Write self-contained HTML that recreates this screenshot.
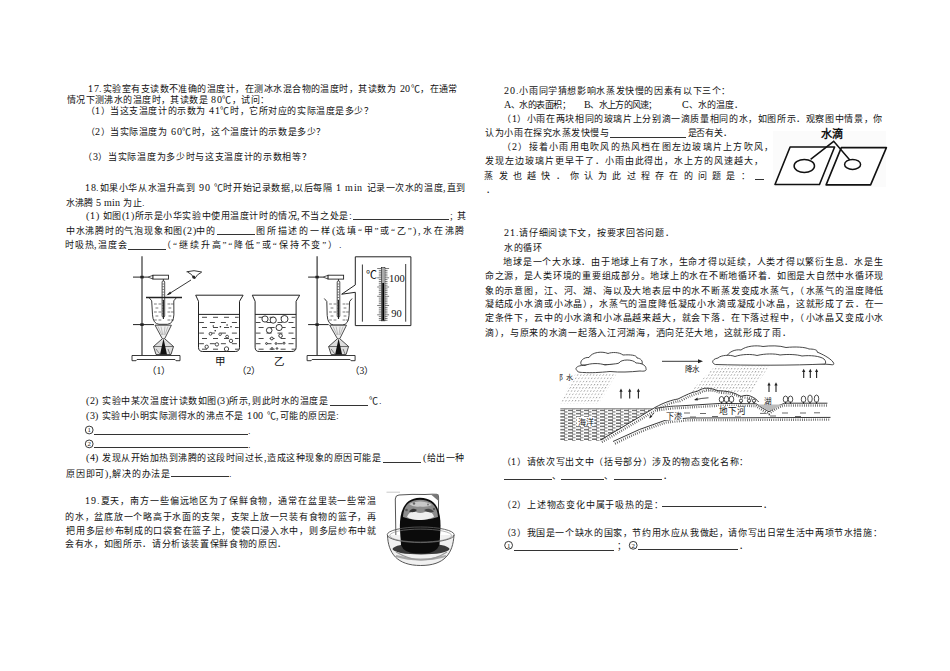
<!DOCTYPE html><html lang="zh-CN"><head><meta charset="utf-8"><style>
html,body{margin:0;padding:0;background:#fff;width:950px;height:671px;overflow:hidden;position:relative}
@font-face{font-family:"LSX";src:local("Liberation Serif");unicode-range:U+0020-007E;size-adjust:112%}
.t{position:absolute;white-space:pre;font-family:"LSX","Liberation Serif",serif;font-size:9.0px;line-height:9.0px;color:#111}
.u{position:absolute;height:0;border-top:1px solid #333}
</style></head><body>
<div class="t" id="t0" style="left:88.30px;top:84.10px;letter-spacing:0.468px">17.实验室有支读数不准确的温度计，在测冰水混合物的温度时，其读数为 20℃，在通常</div>
<div class="t" id="t1" style="left:66.80px;top:94.80px;letter-spacing:0.418px">情况下测沸水的温度时，其读数是 80℃，试问：</div>
<div class="t" id="t2" style="left:85.50px;top:105.80px;letter-spacing:0.561px">（1）当这支温度计的示数为 41℃时，它所对应的实际温度是多少？</div>
<div class="t" id="t3" style="left:85.50px;top:127.10px;letter-spacing:0.569px">（2）当实际温度为 60℃时，这个温度计的示数是多少？</div>
<div class="t" id="t4" style="left:83.10px;top:151.70px;letter-spacing:0.678px">（3）当实际温度为多少时与这支温度计的示数相等？</div>
<div class="t" id="t5" style="left:85.00px;top:182.90px;letter-spacing:0.583px">18.如果小华从水温升高到 90 ℃时开始记录数据,以后每隔 1 min 记录一次水的温度,直到</div>
<div class="t" id="t6" style="left:66.00px;top:197.60px;letter-spacing:0.050px">水沸腾 5 min 为止.</div>
<div class="t" id="t7" style="left:86.40px;top:211.20px;letter-spacing:0.575px">(1) 如图(1)所示是小华实验中使用温度计时的情况,不当之处是:</div>
<div class="t" id="t8" style="left:450.00px;top:211.20px;letter-spacing:3.600px">;其</div>
<div class="t" id="t9" style="left:65.80px;top:226.20px;letter-spacing:0.775px">中水沸腾时的气泡现象和图(2)中的</div>
<div class="t" id="t10" style="left:256.00px;top:226.20px;letter-spacing:1.791px">图所描述的一样(选填“甲”或“乙”),水在沸腾</div>
<div class="t" id="t11" style="left:65.00px;top:240.20px;letter-spacing:0.800px">时吸热,温度会</div>
<div class="t" id="t12" style="left:162.00px;top:240.20px;letter-spacing:1.905px">（“继续升高”“降低”或“保持不变”）.</div>
<div class="t" id="t13" style="left:86.20px;top:396.40px;letter-spacing:0.538px">(2) 实验中某次温度计读数如图(3)所示,则此时水的温度是</div>
<div class="t" id="t14" style="left:369.00px;top:396.40px;letter-spacing:0.800px">℃.</div>
<div class="t" id="t15" style="left:86.20px;top:410.70px;letter-spacing:0.444px">(3) 实验中小明实际测得水的沸点不是 100 ℃,可能的原因是:</div>
<div class="t" id="t16" style="left:248.00px;top:426.20px;letter-spacing:0.800px">.</div>
<div class="t" id="t17" style="left:248.00px;top:440.00px;letter-spacing:0.800px">.</div>
<div class="t" id="t18" style="left:86.20px;top:453.40px;letter-spacing:0.509px">(4) 发现从开始加热到沸腾的这段时间过长,造成这种现象的原因可能是</div>
<div class="t" id="t19" style="left:423.00px;top:453.40px;letter-spacing:0.550px">(给出一种</div>
<div class="t" id="t20" style="left:66.10px;top:469.10px;letter-spacing:0.727px">原因即可),解决的办法是</div>
<div class="t" id="t21" style="left:229.40px;top:469.20px;letter-spacing:0.800px">.</div>
<div class="t" id="t22" style="left:85.00px;top:496.40px;letter-spacing:0.867px">19.夏天，南方一些偏远地区为了保鲜食物，通常在盆里装一些常温</div>
<div class="t" id="t23" style="left:65.10px;top:511.80px;letter-spacing:0.742px">的水，盆底放一个略高于水面的支架，支架上放一只装有食物的篮子，再</div>
<div class="t" id="t24" style="left:66.10px;top:526.10px;letter-spacing:0.710px">把用多层纱布制成的口袋套在篮子上，使袋口浸入水中，则多层纱布中就</div>
<div class="t" id="t25" style="left:65.10px;top:539.40px;letter-spacing:0.645px">会有水，如图所示．请分析该装置保鲜食物的原因．</div>
<div class="t" id="t26" style="left:504.40px;top:85.60px;letter-spacing:0.625px">20.小雨同学猜想影响水蒸发快慢的因素有以下三个：</div>
<div class="t" id="t27" style="left:504.40px;top:100.10px;letter-spacing:-0.514px">A、水的表面积；</div>
<div class="t" id="t28" style="left:584.00px;top:100.10px;letter-spacing:-0.700px">B、水上方的风速；</div>
<div class="t" id="t29" style="left:681.50px;top:100.10px;letter-spacing:0.033px">C、水的温度．</div>
<div class="t" id="t30" style="left:502.00px;top:114.20px;letter-spacing:0.621px">（1）小雨在两块相同的玻璃片上分别滴一滴质量相同的水，如图所示．观察图中情景，你</div>
<div class="t" id="t31" style="left:485.40px;top:128.20px;letter-spacing:0.533px">认为小雨在探究水蒸发快慢与</div>
<div class="t" id="t32" style="left:687.50px;top:128.20px;letter-spacing:-0.200px">是否有关．</div>
<div class="t" id="t33" style="left:502.00px;top:142.20px;letter-spacing:1.231px">（2）接着小雨用电吹风的热风档在图左边玻璃片上方吹风，</div>
<div class="t" id="t34" style="left:485.40px;top:156.20px;letter-spacing:0.941px">发现左边玻璃片更早干了．小雨由此得出，水上方的风速越大，</div>
<div class="t" id="t35" style="left:484.40px;top:170.80px;letter-spacing:5.233px">蒸发也越快．你认为此过程存在的问题是：</div>
<div class="t" id="t36" style="left:485.50px;top:185.10px;letter-spacing:0.800px">．</div>
<div class="t" id="t37" style="left:504.40px;top:228.30px;letter-spacing:0.678px">21.请仔细阅读下文，按要求回答问题．</div>
<div class="t" id="t38" style="left:504.40px;top:242.60px;letter-spacing:0.400px">水的循环</div>
<div class="t" id="t39" style="left:503.40px;top:257.00px;letter-spacing:0.742px">地球是一个大水球．由于地球上有了水，生命才得以延续，人类才得以繁衍生息．水是生</div>
<div class="t" id="t40" style="left:484.80px;top:271.30px;letter-spacing:0.740px">命之源，是人类环境的重要组成部分。地球上的水在不断地循环着．如图是大自然中水循环现</div>
<div class="t" id="t41" style="left:484.80px;top:285.50px;letter-spacing:0.840px">象的示意图，江、河、湖、海以及大地表层中的水不断蒸发变成水蒸气，（水蒸气的温度降低</div>
<div class="t" id="t42" style="left:484.80px;top:299.00px;letter-spacing:0.840px">凝结成小水滴或小冰晶），水蒸气的温度降低凝成小水滴或凝成小冰晶，这就形成了云．在一</div>
<div class="t" id="t43" style="left:484.80px;top:313.20px;letter-spacing:0.840px">定条件下，云中的小水滴和小冰晶越来越大，就会下落．在下落过程中，（小冰晶又变成小水</div>
<div class="t" id="t44" style="left:484.80px;top:327.70px;letter-spacing:0.710px">滴），与原来的水滴一起落入江河湖海，洒向茫茫大地，这就形成了雨．</div>
<div class="t" id="t45" style="left:501.80px;top:457.00px;letter-spacing:0.664px">（1）请依次写出文中（括号部分）涉及的物态变化名称：</div>
<div class="t" id="t46" style="left:551.50px;top:471.00px;letter-spacing:0.800px">、</div>
<div class="t" id="t47" style="left:604.10px;top:471.00px;letter-spacing:0.800px">、</div>
<div class="t" id="t48" style="left:662.50px;top:471.00px;letter-spacing:0.800px">．</div>
<div class="t" id="t49" style="left:501.80px;top:499.70px;letter-spacing:0.775px">（2）上述物态变化中属于吸热的是：</div>
<div class="t" id="t50" style="left:763.00px;top:499.50px;letter-spacing:0.800px">．</div>
<div class="t" id="t51" style="left:501.80px;top:527.50px;letter-spacing:0.610px">（3）我国是一个缺水的国家，节约用水应从我做起，请你写出日常生活中两项节水措施：</div>
<div class="t" id="t52" style="left:617.00px;top:540.60px;letter-spacing:0.800px">；</div>
<div class="t" id="t53" style="left:739.00px;top:540.60px;letter-spacing:0.800px">．</div>
<div class="u" style="left:353.0px;top:219.0px;width:96.4px"></div>
<div class="u" style="left:216.8px;top:234.0px;width:37.9px"></div>
<div class="u" style="left:128.4px;top:248.5px;width:37.9px"></div>
<div class="u" style="left:329.8px;top:405.0px;width:38.1px"></div>
<div class="u" style="left:94.0px;top:433.8px;width:154.0px"></div>
<div class="u" style="left:94.0px;top:447.0px;width:154.0px"></div>
<div class="u" style="left:383.0px;top:461.5px;width:38.0px"></div>
<div class="u" style="left:171.4px;top:476.2px;width:57.4px"></div>
<div class="u" style="left:609.5px;top:136.5px;width:76.7px"></div>
<div class="u" style="left:755.4px;top:178.5px;width:8.6px"></div>
<div class="u" style="left:504.2px;top:479.0px;width:47.4px"></div>
<div class="u" style="left:561.0px;top:479.0px;width:43.2px"></div>
<div class="u" style="left:614.3px;top:479.0px;width:47.7px"></div>
<div class="u" style="left:662.0px;top:506.3px;width:100.3px"></div>
<div class="u" style="left:513.7px;top:549.5px;width:100.0px"></div>
<div class="u" style="left:638.0px;top:549.3px;width:100.3px"></div>
<svg class="fig" width="950" height="671" style="position:absolute;left:0;top:0">
<line x1="142" y1="256.2" x2="142" y2="355.5" stroke="#222" stroke-width="1.1"/>
<path d="M132,360.7 L132,355.5 L180,355.5 L180,360.7 L176,360.7 L175,359.5 L137,359.5 L136,360.7 Z" fill="#fff" stroke="#222" stroke-width="0.9"/>
<line x1="133" y1="277.1" x2="148" y2="277.1" stroke="#222" stroke-width="1"/>
<rect x="140.3" y="275.8" width="3.4" height="2.6" fill="#222"/>
<path d="M148,277.1 L153,275.3 L153,279 Z" fill="none" stroke="#222" stroke-width="0.8"/>
<rect x="153" y="275.2" width="15.5" height="3.9" fill="#fff" stroke="#222" stroke-width="0.9"/>
<line x1="163.4" y1="279" x2="163.4" y2="281" stroke="#222" stroke-width="0.8"/>
<rect x="162.1" y="281" width="2.6" height="36" rx="1" fill="#fff" stroke="#222" stroke-width="0.8"/>
<line x1="162.4" y1="284.0" x2="164.0" y2="284.0" stroke="#222" stroke-width="0.6"/>
<line x1="162.4" y1="286.7" x2="164.0" y2="286.7" stroke="#222" stroke-width="0.6"/>
<line x1="162.4" y1="289.4" x2="164.0" y2="289.4" stroke="#222" stroke-width="0.6"/>
<line x1="162.4" y1="292.1" x2="164.0" y2="292.1" stroke="#222" stroke-width="0.6"/>
<line x1="162.4" y1="294.8" x2="164.0" y2="294.8" stroke="#222" stroke-width="0.6"/>
<line x1="162.4" y1="297.5" x2="164.0" y2="297.5" stroke="#222" stroke-width="0.6"/>
<line x1="162.4" y1="300.2" x2="164.0" y2="300.2" stroke="#222" stroke-width="0.6"/>
<line x1="162.4" y1="302.9" x2="164.0" y2="302.9" stroke="#222" stroke-width="0.6"/>
<line x1="162.4" y1="305.6" x2="164.0" y2="305.6" stroke="#222" stroke-width="0.6"/>
<line x1="162.4" y1="308.3" x2="164.0" y2="308.3" stroke="#222" stroke-width="0.6"/>
<line x1="162.4" y1="311.0" x2="164.0" y2="311.0" stroke="#222" stroke-width="0.6"/>
<line x1="162.4" y1="313.7" x2="164.0" y2="313.7" stroke="#222" stroke-width="0.6"/>
<line x1="163.4" y1="300" x2="163.4" y2="319" stroke="#222" stroke-width="1.1"/>
<path d="M149.2,297.8 L151.7,300.8 L152.5,314.8 Q153,323.8 159,324.3 L167.4,324.3 Q173.4,323.8 173.9,314.8 L173.8,300.8 L176.3,297.8" fill="none" stroke="#222" stroke-width="0.9"/>
<line x1="154" y1="304" x2="156.8" y2="304" stroke="#444" stroke-width="0.7"/>
<line x1="158.5" y1="304" x2="161.3" y2="304" stroke="#444" stroke-width="0.7"/>
<line x1="167.5" y1="304" x2="170.3" y2="304" stroke="#444" stroke-width="0.7"/>
<line x1="171" y1="304" x2="173.8" y2="304" stroke="#444" stroke-width="0.7"/>
<line x1="155.5" y1="308" x2="158.3" y2="308" stroke="#444" stroke-width="0.7"/>
<line x1="168.5" y1="308" x2="171.3" y2="308" stroke="#444" stroke-width="0.7"/>
<line x1="154" y1="312" x2="156.8" y2="312" stroke="#444" stroke-width="0.7"/>
<line x1="158.5" y1="312" x2="161.3" y2="312" stroke="#444" stroke-width="0.7"/>
<line x1="167.5" y1="312" x2="170.3" y2="312" stroke="#444" stroke-width="0.7"/>
<line x1="171" y1="312" x2="173.8" y2="312" stroke="#444" stroke-width="0.7"/>
<line x1="155.5" y1="316" x2="158.3" y2="316" stroke="#444" stroke-width="0.7"/>
<line x1="168.5" y1="316" x2="171.3" y2="316" stroke="#444" stroke-width="0.7"/>
<line x1="154" y1="320" x2="156.8" y2="320" stroke="#444" stroke-width="0.7"/>
<line x1="158.5" y1="320" x2="161.3" y2="320" stroke="#444" stroke-width="0.7"/>
<line x1="167.5" y1="320" x2="170.3" y2="320" stroke="#444" stroke-width="0.7"/>
<line x1="171" y1="320" x2="173.8" y2="320" stroke="#444" stroke-width="0.7"/>
<line x1="146" y1="297.4" x2="182" y2="297.4" stroke="#222" stroke-width="1.5"/>
<line x1="133" y1="324.6" x2="154" y2="324.6" stroke="#222" stroke-width="1"/>
<rect x="140.3" y="323.3" width="3.4" height="2.6" fill="#222"/>
<path d="M155,325.2 L171.4,325.2 L164.8,338.5 L162.2,338.5 Z" fill="#eee" stroke="#222" stroke-width="0.8"/>
<line x1="158" y1="326.5" x2="161.85" y2="335" stroke="#888" stroke-width="0.5"/>
<line x1="161" y1="326.5" x2="162.75" y2="335" stroke="#888" stroke-width="0.5"/>
<line x1="165" y1="326.5" x2="163.95" y2="335" stroke="#888" stroke-width="0.5"/>
<line x1="168" y1="326.5" x2="164.85" y2="335" stroke="#888" stroke-width="0.5"/>
<path d="M162.6,338.5 L153.5,346.5 L156,354.5 L171,354.5 L173.5,346.5 L164.4,338.5" fill="#ddd" stroke="#222" stroke-width="0.8"/>
<path d="M153.5,346.5 L173.5,346.5" stroke="#222" stroke-width="0.6"/>
<path d="M163.5,338.5 L160,354.5 L167,354.5 Z" fill="#111"/>
<path d="M156,349 Q158,352 160,354 M168,349 Q169,352 170,354" stroke="#555" stroke-width="0.7" fill="none"/>
<path d="M186.5,271.8 Q194,269.5 201.8,272 M187.5,272 Q192,273.5 194.5,279 Q197,274 201.5,272.3" fill="none" stroke="#222" stroke-width="0.9"/>
<circle cx="193.7" cy="277" r="1.5" fill="#222"/>
<line x1="191" y1="280" x2="168" y2="294.5" stroke="#222" stroke-width="0.9"/>
<path d="M166.3,295.6 L170.2,291.5 L171.4,293.7 Z" fill="#222"/>
<line x1="317.1" y1="256.2" x2="317.1" y2="355.5" stroke="#222" stroke-width="1.1"/>
<path d="M307.1,360.7 L307.1,355.5 L355.1,355.5 L355.1,360.7 L351.1,360.7 L350.1,359.5 L312.1,359.5 L311.1,360.7 Z" fill="#fff" stroke="#222" stroke-width="0.9"/>
<line x1="308.1" y1="277.1" x2="323.1" y2="277.1" stroke="#222" stroke-width="1"/>
<rect x="315.40000000000003" y="275.8" width="3.4" height="2.6" fill="#222"/>
<path d="M323.1,277.1 L328.1,275.3 L328.1,279 Z" fill="none" stroke="#222" stroke-width="0.8"/>
<rect x="328.1" y="275.2" width="15.5" height="3.9" fill="#fff" stroke="#222" stroke-width="0.9"/>
<line x1="338.5" y1="279" x2="338.5" y2="281" stroke="#222" stroke-width="0.8"/>
<rect x="337.2" y="281" width="2.6" height="36" rx="1" fill="#fff" stroke="#222" stroke-width="0.8"/>
<line x1="337.5" y1="284.0" x2="339.1" y2="284.0" stroke="#222" stroke-width="0.6"/>
<line x1="337.5" y1="286.7" x2="339.1" y2="286.7" stroke="#222" stroke-width="0.6"/>
<line x1="337.5" y1="289.4" x2="339.1" y2="289.4" stroke="#222" stroke-width="0.6"/>
<line x1="337.5" y1="292.1" x2="339.1" y2="292.1" stroke="#222" stroke-width="0.6"/>
<line x1="337.5" y1="294.8" x2="339.1" y2="294.8" stroke="#222" stroke-width="0.6"/>
<line x1="337.5" y1="297.5" x2="339.1" y2="297.5" stroke="#222" stroke-width="0.6"/>
<line x1="337.5" y1="300.2" x2="339.1" y2="300.2" stroke="#222" stroke-width="0.6"/>
<line x1="337.5" y1="302.9" x2="339.1" y2="302.9" stroke="#222" stroke-width="0.6"/>
<line x1="337.5" y1="305.6" x2="339.1" y2="305.6" stroke="#222" stroke-width="0.6"/>
<line x1="337.5" y1="308.3" x2="339.1" y2="308.3" stroke="#222" stroke-width="0.6"/>
<line x1="337.5" y1="311.0" x2="339.1" y2="311.0" stroke="#222" stroke-width="0.6"/>
<line x1="337.5" y1="313.7" x2="339.1" y2="313.7" stroke="#222" stroke-width="0.6"/>
<line x1="338.5" y1="300" x2="338.5" y2="319" stroke="#222" stroke-width="1.1"/>
<path d="M324.3,298.5 L326.8,301.5 L327.20000000000005,315.5 Q327.70000000000005,324.5 333.70000000000005,325.0 L342.5,325.0 Q348.5,324.5 349.0,315.5 L349.6,301.5 L352.1,298.5" fill="none" stroke="#222" stroke-width="0.9"/>
<line x1="329.1" y1="304" x2="331.90000000000003" y2="304" stroke="#444" stroke-width="0.7"/>
<line x1="333.6" y1="304" x2="336.40000000000003" y2="304" stroke="#444" stroke-width="0.7"/>
<line x1="342.6" y1="304" x2="345.40000000000003" y2="304" stroke="#444" stroke-width="0.7"/>
<line x1="346.1" y1="304" x2="348.90000000000003" y2="304" stroke="#444" stroke-width="0.7"/>
<line x1="330.6" y1="308" x2="333.40000000000003" y2="308" stroke="#444" stroke-width="0.7"/>
<line x1="343.6" y1="308" x2="346.40000000000003" y2="308" stroke="#444" stroke-width="0.7"/>
<line x1="329.1" y1="312" x2="331.90000000000003" y2="312" stroke="#444" stroke-width="0.7"/>
<line x1="333.6" y1="312" x2="336.40000000000003" y2="312" stroke="#444" stroke-width="0.7"/>
<line x1="342.6" y1="312" x2="345.40000000000003" y2="312" stroke="#444" stroke-width="0.7"/>
<line x1="346.1" y1="312" x2="348.90000000000003" y2="312" stroke="#444" stroke-width="0.7"/>
<line x1="330.6" y1="316" x2="333.40000000000003" y2="316" stroke="#444" stroke-width="0.7"/>
<line x1="343.6" y1="316" x2="346.40000000000003" y2="316" stroke="#444" stroke-width="0.7"/>
<line x1="329.1" y1="320" x2="331.90000000000003" y2="320" stroke="#444" stroke-width="0.7"/>
<line x1="333.6" y1="320" x2="336.40000000000003" y2="320" stroke="#444" stroke-width="0.7"/>
<line x1="342.6" y1="320" x2="345.40000000000003" y2="320" stroke="#444" stroke-width="0.7"/>
<line x1="346.1" y1="320" x2="348.90000000000003" y2="320" stroke="#444" stroke-width="0.7"/>
<line x1="308.1" y1="324.6" x2="328.70000000000005" y2="324.6" stroke="#222" stroke-width="1"/>
<rect x="315.40000000000003" y="323.3" width="3.4" height="2.6" fill="#222"/>
<path d="M329.70000000000005,325.2 L346.5,325.2 L339.90000000000003,338.5 L337.3,338.5 Z" fill="#eee" stroke="#222" stroke-width="0.8"/>
<line x1="333.1" y1="326.5" x2="336.95000000000005" y2="335" stroke="#888" stroke-width="0.5"/>
<line x1="336.1" y1="326.5" x2="337.85" y2="335" stroke="#888" stroke-width="0.5"/>
<line x1="340.1" y1="326.5" x2="339.05" y2="335" stroke="#888" stroke-width="0.5"/>
<line x1="343.1" y1="326.5" x2="339.95000000000005" y2="335" stroke="#888" stroke-width="0.5"/>
<path d="M337.70000000000005,338.5 L328.6,346.5 L331.1,354.5 L346.1,354.5 L348.6,346.5 L339.5,338.5" fill="#ddd" stroke="#222" stroke-width="0.8"/>
<path d="M328.6,346.5 L348.6,346.5" stroke="#222" stroke-width="0.6"/>
<path d="M338.6,338.5 L335.1,354.5 L342.1,354.5 Z" fill="#111"/>
<path d="M331.1,349 Q333.1,352 335.1,354 M343.1,349 Q344.1,352 345.1,354" stroke="#555" stroke-width="0.7" fill="none"/>
<path d="M355.3,284.9 L355.3,256.8 L410.9,256.8 L410.9,325.6 L355.3,325.6 L355.3,292.3 L341.7,294.2 Z" fill="#fff" stroke="#222" stroke-width="1"/>
<line x1="362.4" y1="264.5" x2="362.4" y2="321.7" stroke="#222" stroke-width="0.9"/>
<line x1="405.7" y1="264" x2="405.7" y2="321.7" stroke="#222" stroke-width="0.9"/>
<rect x="381.4" y="267.4" width="3.5" height="53.4" fill="#fff" stroke="#222" stroke-width="0.7"/>
<rect x="382" y="267.8" width="2.3" height="15.2" fill="#aaa"/>
<rect x="382.2" y="283" width="1.9" height="37.6" fill="#000"/>
<line x1="377.2" y1="268.5" x2="381.4" y2="268.5" stroke="#222" stroke-width="0.6"/>
<line x1="384.9" y1="268.5" x2="389.09999999999997" y2="268.5" stroke="#222" stroke-width="0.6"/>
<line x1="378.79999999999995" y1="270.4" x2="381.4" y2="270.4" stroke="#222" stroke-width="0.6"/>
<line x1="384.9" y1="270.4" x2="387.5" y2="270.4" stroke="#222" stroke-width="0.6"/>
<line x1="378.79999999999995" y1="272.2" x2="381.4" y2="272.2" stroke="#222" stroke-width="0.6"/>
<line x1="384.9" y1="272.2" x2="387.5" y2="272.2" stroke="#222" stroke-width="0.6"/>
<line x1="378.79999999999995" y1="274.1" x2="381.4" y2="274.1" stroke="#222" stroke-width="0.6"/>
<line x1="384.9" y1="274.1" x2="387.5" y2="274.1" stroke="#222" stroke-width="0.6"/>
<line x1="378.79999999999995" y1="275.9" x2="381.4" y2="275.9" stroke="#222" stroke-width="0.6"/>
<line x1="384.9" y1="275.9" x2="387.5" y2="275.9" stroke="#222" stroke-width="0.6"/>
<line x1="377.2" y1="277.8" x2="381.4" y2="277.8" stroke="#222" stroke-width="0.6"/>
<line x1="384.9" y1="277.8" x2="389.09999999999997" y2="277.8" stroke="#222" stroke-width="0.6"/>
<line x1="378.79999999999995" y1="279.6" x2="381.4" y2="279.6" stroke="#222" stroke-width="0.6"/>
<line x1="384.9" y1="279.6" x2="387.5" y2="279.6" stroke="#222" stroke-width="0.6"/>
<line x1="378.79999999999995" y1="281.5" x2="381.4" y2="281.5" stroke="#222" stroke-width="0.6"/>
<line x1="384.9" y1="281.5" x2="387.5" y2="281.5" stroke="#222" stroke-width="0.6"/>
<line x1="378.79999999999995" y1="283.3" x2="381.4" y2="283.3" stroke="#222" stroke-width="0.6"/>
<line x1="384.9" y1="283.3" x2="387.5" y2="283.3" stroke="#222" stroke-width="0.6"/>
<line x1="378.79999999999995" y1="285.2" x2="381.4" y2="285.2" stroke="#222" stroke-width="0.6"/>
<line x1="384.9" y1="285.2" x2="387.5" y2="285.2" stroke="#222" stroke-width="0.6"/>
<line x1="377.2" y1="287.0" x2="381.4" y2="287.0" stroke="#222" stroke-width="0.6"/>
<line x1="384.9" y1="287.0" x2="389.09999999999997" y2="287.0" stroke="#222" stroke-width="0.6"/>
<line x1="378.79999999999995" y1="288.9" x2="381.4" y2="288.9" stroke="#222" stroke-width="0.6"/>
<line x1="384.9" y1="288.9" x2="387.5" y2="288.9" stroke="#222" stroke-width="0.6"/>
<line x1="378.79999999999995" y1="290.7" x2="381.4" y2="290.7" stroke="#222" stroke-width="0.6"/>
<line x1="384.9" y1="290.7" x2="387.5" y2="290.7" stroke="#222" stroke-width="0.6"/>
<line x1="378.79999999999995" y1="292.6" x2="381.4" y2="292.6" stroke="#222" stroke-width="0.6"/>
<line x1="384.9" y1="292.6" x2="387.5" y2="292.6" stroke="#222" stroke-width="0.6"/>
<line x1="378.79999999999995" y1="294.4" x2="381.4" y2="294.4" stroke="#222" stroke-width="0.6"/>
<line x1="384.9" y1="294.4" x2="387.5" y2="294.4" stroke="#222" stroke-width="0.6"/>
<line x1="377.2" y1="296.3" x2="381.4" y2="296.3" stroke="#222" stroke-width="0.6"/>
<line x1="384.9" y1="296.3" x2="389.09999999999997" y2="296.3" stroke="#222" stroke-width="0.6"/>
<line x1="378.79999999999995" y1="298.1" x2="381.4" y2="298.1" stroke="#222" stroke-width="0.6"/>
<line x1="384.9" y1="298.1" x2="387.5" y2="298.1" stroke="#222" stroke-width="0.6"/>
<line x1="378.79999999999995" y1="300.0" x2="381.4" y2="300.0" stroke="#222" stroke-width="0.6"/>
<line x1="384.9" y1="300.0" x2="387.5" y2="300.0" stroke="#222" stroke-width="0.6"/>
<line x1="378.79999999999995" y1="301.8" x2="381.4" y2="301.8" stroke="#222" stroke-width="0.6"/>
<line x1="384.9" y1="301.8" x2="387.5" y2="301.8" stroke="#222" stroke-width="0.6"/>
<line x1="378.79999999999995" y1="303.7" x2="381.4" y2="303.7" stroke="#222" stroke-width="0.6"/>
<line x1="384.9" y1="303.7" x2="387.5" y2="303.7" stroke="#222" stroke-width="0.6"/>
<line x1="377.2" y1="305.5" x2="381.4" y2="305.5" stroke="#222" stroke-width="0.6"/>
<line x1="384.9" y1="305.5" x2="389.09999999999997" y2="305.5" stroke="#222" stroke-width="0.6"/>
<line x1="378.79999999999995" y1="307.4" x2="381.4" y2="307.4" stroke="#222" stroke-width="0.6"/>
<line x1="384.9" y1="307.4" x2="387.5" y2="307.4" stroke="#222" stroke-width="0.6"/>
<line x1="378.79999999999995" y1="309.2" x2="381.4" y2="309.2" stroke="#222" stroke-width="0.6"/>
<line x1="384.9" y1="309.2" x2="387.5" y2="309.2" stroke="#222" stroke-width="0.6"/>
<line x1="378.79999999999995" y1="311.1" x2="381.4" y2="311.1" stroke="#222" stroke-width="0.6"/>
<line x1="384.9" y1="311.1" x2="387.5" y2="311.1" stroke="#222" stroke-width="0.6"/>
<line x1="378.79999999999995" y1="312.9" x2="381.4" y2="312.9" stroke="#222" stroke-width="0.6"/>
<line x1="384.9" y1="312.9" x2="387.5" y2="312.9" stroke="#222" stroke-width="0.6"/>
<line x1="377.2" y1="314.8" x2="381.4" y2="314.8" stroke="#222" stroke-width="0.6"/>
<line x1="384.9" y1="314.8" x2="389.09999999999997" y2="314.8" stroke="#222" stroke-width="0.6"/>
<line x1="378.79999999999995" y1="316.6" x2="381.4" y2="316.6" stroke="#222" stroke-width="0.6"/>
<line x1="384.9" y1="316.6" x2="387.5" y2="316.6" stroke="#222" stroke-width="0.6"/>
<line x1="378.79999999999995" y1="318.5" x2="381.4" y2="318.5" stroke="#222" stroke-width="0.6"/>
<line x1="384.9" y1="318.5" x2="387.5" y2="318.5" stroke="#222" stroke-width="0.6"/>
<line x1="378.79999999999995" y1="320.3" x2="381.4" y2="320.3" stroke="#222" stroke-width="0.6"/>
<line x1="384.9" y1="320.3" x2="387.5" y2="320.3" stroke="#222" stroke-width="0.6"/>
<text x="365.5" y="279" font-family="Liberation Serif" font-size="11" fill="#111">&#8451;</text>
<text x="389" y="281.5" font-family="Liberation Serif" font-size="10.5" fill="#111">100</text>
<text x="391.2" y="316.9" font-family="Liberation Serif" font-size="10.5" fill="#111">90</text>
<text x="146.5" y="373.6" font-family="Liberation Serif" font-size="9.5" fill="#111">（1）</text>
<text x="236.5" y="373.6" font-family="Liberation Serif" font-size="9.5" fill="#111">（2）</text>
<text x="349.5" y="373.9" font-family="Liberation Serif" font-size="9.5" fill="#111">（3）</text>
<text x="214.7" y="365.4" font-family="Liberation Serif" font-size="10.5" fill="#111">甲</text>
<text x="273.8" y="365.4" font-family="Liberation Serif" font-size="10.5" fill="#111">乙</text>
<path d="M195.7,295.2 L198.5,301.3 L198.5,347.3 Q198.5,351.5 202.7,351.5 L235.29999999999998,351.5 Q239.5,351.5 239.5,347.3 L239.5,301.3 L243.1,295.2 Z" fill="#fff" stroke="#222" stroke-width="1"/>
<line x1="198.5" y1="314.4" x2="239.5" y2="314.4" stroke="#222" stroke-width="1"/>
<line x1="202.0" y1="317.3" x2="207.0" y2="317.3" stroke="#333" stroke-width="0.9"/>
<line x1="213.0" y1="317.3" x2="218.0" y2="317.3" stroke="#333" stroke-width="0.9"/>
<line x1="224.0" y1="317.3" x2="229.0" y2="317.3" stroke="#333" stroke-width="0.9"/>
<line x1="235.0" y1="317.3" x2="238.7" y2="317.3" stroke="#333" stroke-width="0.9"/>
<line x1="199.2" y1="322.5" x2="203.9" y2="322.5" stroke="#333" stroke-width="0.9"/>
<line x1="209.9" y1="322.5" x2="214.9" y2="322.5" stroke="#333" stroke-width="0.9"/>
<line x1="220.9" y1="322.5" x2="225.9" y2="322.5" stroke="#333" stroke-width="0.9"/>
<line x1="231.9" y1="322.5" x2="236.9" y2="322.5" stroke="#333" stroke-width="0.9"/>
<line x1="202.0" y1="327.5" x2="207.0" y2="327.5" stroke="#333" stroke-width="0.9"/>
<line x1="213.0" y1="327.5" x2="218.0" y2="327.5" stroke="#333" stroke-width="0.9"/>
<line x1="224.0" y1="327.5" x2="229.0" y2="327.5" stroke="#333" stroke-width="0.9"/>
<line x1="235.0" y1="327.5" x2="238.7" y2="327.5" stroke="#333" stroke-width="0.9"/>
<line x1="199.2" y1="333.1" x2="203.9" y2="333.1" stroke="#333" stroke-width="0.9"/>
<line x1="209.9" y1="333.1" x2="214.9" y2="333.1" stroke="#333" stroke-width="0.9"/>
<line x1="220.9" y1="333.1" x2="225.9" y2="333.1" stroke="#333" stroke-width="0.9"/>
<line x1="231.9" y1="333.1" x2="236.9" y2="333.1" stroke="#333" stroke-width="0.9"/>
<line x1="202.0" y1="338.5" x2="207.0" y2="338.5" stroke="#333" stroke-width="0.9"/>
<line x1="213.0" y1="338.5" x2="218.0" y2="338.5" stroke="#333" stroke-width="0.9"/>
<line x1="224.0" y1="338.5" x2="229.0" y2="338.5" stroke="#333" stroke-width="0.9"/>
<line x1="235.0" y1="338.5" x2="238.7" y2="338.5" stroke="#333" stroke-width="0.9"/>
<line x1="199.2" y1="343.7" x2="203.9" y2="343.7" stroke="#333" stroke-width="0.9"/>
<line x1="209.9" y1="343.7" x2="214.9" y2="343.7" stroke="#333" stroke-width="0.9"/>
<line x1="220.9" y1="343.7" x2="225.9" y2="343.7" stroke="#333" stroke-width="0.9"/>
<line x1="231.9" y1="343.7" x2="236.9" y2="343.7" stroke="#333" stroke-width="0.9"/>
<line x1="202.0" y1="349.2" x2="207.0" y2="349.2" stroke="#333" stroke-width="0.9"/>
<line x1="213.0" y1="349.2" x2="218.0" y2="349.2" stroke="#333" stroke-width="0.9"/>
<line x1="224.0" y1="349.2" x2="229.0" y2="349.2" stroke="#333" stroke-width="0.9"/>
<line x1="235.0" y1="349.2" x2="238.7" y2="349.2" stroke="#333" stroke-width="0.9"/>
<path d="M252.3,295.2 L255.10000000000002,301.3 L255.10000000000002,347.3 Q255.10000000000002,351.5 259.3,351.5 L291.90000000000003,351.5 Q296.1,351.5 296.1,347.3 L296.1,301.3 L299.7,295.2 Z" fill="#fff" stroke="#222" stroke-width="1"/>
<line x1="255.10000000000002" y1="314.4" x2="296.1" y2="314.4" stroke="#222" stroke-width="1"/>
<line x1="258.6" y1="317.3" x2="263.6" y2="317.3" stroke="#333" stroke-width="0.9"/>
<line x1="269.6" y1="317.3" x2="274.6" y2="317.3" stroke="#333" stroke-width="0.9"/>
<line x1="280.6" y1="317.3" x2="285.6" y2="317.3" stroke="#333" stroke-width="0.9"/>
<line x1="291.6" y1="317.3" x2="295.3" y2="317.3" stroke="#333" stroke-width="0.9"/>
<line x1="255.8" y1="322.5" x2="260.5" y2="322.5" stroke="#333" stroke-width="0.9"/>
<line x1="266.5" y1="322.5" x2="271.5" y2="322.5" stroke="#333" stroke-width="0.9"/>
<line x1="277.5" y1="322.5" x2="282.5" y2="322.5" stroke="#333" stroke-width="0.9"/>
<line x1="288.5" y1="322.5" x2="293.5" y2="322.5" stroke="#333" stroke-width="0.9"/>
<line x1="258.6" y1="327.5" x2="263.6" y2="327.5" stroke="#333" stroke-width="0.9"/>
<line x1="269.6" y1="327.5" x2="274.6" y2="327.5" stroke="#333" stroke-width="0.9"/>
<line x1="280.6" y1="327.5" x2="285.6" y2="327.5" stroke="#333" stroke-width="0.9"/>
<line x1="291.6" y1="327.5" x2="295.3" y2="327.5" stroke="#333" stroke-width="0.9"/>
<line x1="255.8" y1="333.1" x2="260.5" y2="333.1" stroke="#333" stroke-width="0.9"/>
<line x1="266.5" y1="333.1" x2="271.5" y2="333.1" stroke="#333" stroke-width="0.9"/>
<line x1="277.5" y1="333.1" x2="282.5" y2="333.1" stroke="#333" stroke-width="0.9"/>
<line x1="288.5" y1="333.1" x2="293.5" y2="333.1" stroke="#333" stroke-width="0.9"/>
<line x1="258.6" y1="338.5" x2="263.6" y2="338.5" stroke="#333" stroke-width="0.9"/>
<line x1="269.6" y1="338.5" x2="274.6" y2="338.5" stroke="#333" stroke-width="0.9"/>
<line x1="280.6" y1="338.5" x2="285.6" y2="338.5" stroke="#333" stroke-width="0.9"/>
<line x1="291.6" y1="338.5" x2="295.3" y2="338.5" stroke="#333" stroke-width="0.9"/>
<line x1="255.8" y1="343.7" x2="260.5" y2="343.7" stroke="#333" stroke-width="0.9"/>
<line x1="266.5" y1="343.7" x2="271.5" y2="343.7" stroke="#333" stroke-width="0.9"/>
<line x1="277.5" y1="343.7" x2="282.5" y2="343.7" stroke="#333" stroke-width="0.9"/>
<line x1="288.5" y1="343.7" x2="293.5" y2="343.7" stroke="#333" stroke-width="0.9"/>
<line x1="258.6" y1="349.2" x2="263.6" y2="349.2" stroke="#333" stroke-width="0.9"/>
<line x1="269.6" y1="349.2" x2="274.6" y2="349.2" stroke="#333" stroke-width="0.9"/>
<line x1="280.6" y1="349.2" x2="285.6" y2="349.2" stroke="#333" stroke-width="0.9"/>
<line x1="291.6" y1="349.2" x2="295.3" y2="349.2" stroke="#333" stroke-width="0.9"/>
<circle cx="210.5" cy="333.8" r="1.4" fill="#fff" stroke="#222" stroke-width="0.8"/>
<circle cx="220.1" cy="334.2" r="1.3" fill="#fff" stroke="#222" stroke-width="0.8"/>
<circle cx="227.1" cy="336.6" r="1.4" fill="#fff" stroke="#222" stroke-width="0.8"/>
<circle cx="231" cy="340.9" r="1.7" fill="#fff" stroke="#222" stroke-width="0.8"/>
<circle cx="216.9" cy="344.4" r="1.7" fill="#fff" stroke="#222" stroke-width="0.8"/>
<circle cx="206.7" cy="346.8" r="1.7" fill="#fff" stroke="#222" stroke-width="0.8"/>
<circle cx="226.5" cy="349" r="2.2" fill="#fff" stroke="#222" stroke-width="0.8"/>
<circle cx="213.3" cy="326" r="0.8" fill="#222"/>
<circle cx="220.4" cy="326.7" r="0.8" fill="#222"/>
<circle cx="227.1" cy="325" r="0.8" fill="#222"/>
<circle cx="231" cy="326.7" r="0.8" fill="#222"/>
<circle cx="215.2" cy="330.7" r="0.8" fill="#222"/>
<circle cx="265" cy="319" r="3.1" fill="#fff" stroke="#222" stroke-width="0.9"/>
<circle cx="273.2" cy="320.1" r="3.1" fill="#fff" stroke="#222" stroke-width="0.9"/>
<circle cx="284.5" cy="319" r="3.5" fill="#fff" stroke="#222" stroke-width="0.9"/>
<circle cx="269.2" cy="330.3" r="2.8" fill="#fff" stroke="#222" stroke-width="0.9"/>
<circle cx="279.1" cy="327.5" r="3.1" fill="#fff" stroke="#222" stroke-width="0.9"/>
<circle cx="280.6" cy="335.7" r="1.8" fill="#fff" stroke="#222" stroke-width="0.9"/>
<circle cx="271.8" cy="338.5" r="1.4" fill="#fff" stroke="#222" stroke-width="0.9"/>
<circle cx="266.5" cy="343.5" r="0.9" fill="#fff" stroke="#222" stroke-width="0.9"/>
<circle cx="276" cy="343.5" r="0.9" fill="#fff" stroke="#222" stroke-width="0.9"/>
<circle cx="284" cy="343.2" r="1" fill="#fff" stroke="#222" stroke-width="0.9"/>
<circle cx="272" cy="348.5" r="0.9" fill="#fff" stroke="#222" stroke-width="0.9"/>
<circle cx="277" cy="348.5" r="0.8" fill="#fff" stroke="#222" stroke-width="0.9"/>
<rect x="773" y="131" width="113" height="56" fill="#f8f8f8" opacity="0.5"/>
<path d="M790.1,147 L834.6,147 L819.5,184.5 L775,184.5 Z" fill="#fff" stroke="#111" stroke-width="1.6" stroke-linejoin="round"/>
<path d="M841.3,147.6 L886.4,147.6 L870.6,184.9 L826.1,184.9 Z" fill="#fff" stroke="#111" stroke-width="1.6" stroke-linejoin="round"/>
<ellipse cx="804.3" cy="166" rx="10.2" ry="6.5" fill="none" stroke="#111" stroke-width="1.5"/>
<ellipse cx="852.6" cy="164.4" rx="8" ry="5" fill="none" stroke="#111" stroke-width="1.5"/>
<polyline points="810.6,159.3 833.7,141.3 849.8,159.9" fill="none" stroke="#111" stroke-width="1.5"/>
<text x="820.8" y="138.3" font-family="Liberation Sans" font-weight="bold" font-size="11.2" fill="#111">水滴</text>
<line x1="386.5" y1="492.2" x2="400" y2="492.2" stroke="#bbb" stroke-width="0.8"/>
<path d="M396,545 L395.3,499 Q395.5,495 399,495 Q412,494 425,494.5 Q433,494 437,494.3 Q439,495 438.6,498 L438,545 Z" fill="#fff" stroke="#444" stroke-width="0.9"/>
<path d="M431,494.5 L438.5,494.3 L438.6,501 Z" fill="#777"/>
<path d="M387.5,535 C388,553 397,565.5 420.7,565.5 C445,565.5 453,553 454,535" fill="#f0f0f0" stroke="#444" stroke-width="0.9"/>
<ellipse cx="421" cy="549" rx="28.5" ry="5.5" fill="#3a3a3a"/>
<path d="M396,556 Q420,563 446,556" stroke="#aaa" stroke-width="2" fill="none"/>
<path d="M400,530 C399,512 404,498 420,497.8 C436,498 441,510 440.5,528 L439.5,545 Q436,553 425,553.5 L416,553.5 Q404,553 401,545 Z" fill="#0b0b0b"/>
<path d="M403,517 C403.5,507 408,500 420,499.8 C432,500 437.5,507 438,517 Q430,520 420,519.5 Q410,520 403,517 Z" fill="#8c8c8c"/>
<path d="M409,504 Q414,501 421,501.5 Q429,502 432,505 Q427,507.5 420,506.5 Q413,507.5 409,504 Z" fill="#c8c8c8"/>
<path d="M407,517 Q409,511 416,512 Q420,514 425,512 Q433,511 434,517 Q426,520.5 420,520 Q412,520.5 407,517 Z" fill="#eeeeee"/>
<path d="M409,511.5 Q412,507 417,510 Q414,513.5 409,511.5 Z" fill="#333"/>
<path d="M424,510 Q430,507 434,511.5 Q429,514 424,510 Z" fill="#444"/>
<circle cx="414" cy="503.5" r="1.2" fill="#666"/><circle cx="428" cy="504.5" r="1" fill="#777"/><circle cx="406.5" cy="510" r="1.3" fill="#555"/><circle cx="434" cy="509" r="1.2" fill="#555"/>
<ellipse cx="420.7" cy="534.8" rx="33.5" ry="7.8" fill="none" stroke="#555" stroke-width="0.9"/>
<ellipse cx="420.7" cy="535.6" rx="31" ry="6.5" fill="none" stroke="#888" stroke-width="0.6"/>
<path d="M396,552 Q410,560 421,560 Q435,560 447,552" stroke="#999" stroke-width="1.2" fill="none"/>
<defs><pattern id="rain" width="3.2" height="3.2" patternUnits="userSpaceOnUse" patternTransform="skewX(-30)"><rect x="0" y="0" width="1" height="1.3" fill="#777"/></pattern><pattern id="sea" width="8" height="3.2" patternUnits="userSpaceOnUse"><rect x="0" y="0.2" width="5" height="1.3" fill="#555"/><rect x="4" y="1.8" width="3.5" height="1.1" fill="#777"/></pattern></defs>
<path d="M581.4,365 C579,361 584,357 589,357.5 C592,352 602,351 608,353.5 C612,352 619,352 623,355 C630,354.5 637,355 637,358 C641,358.5 643,361 642,364 Z" fill="#fff" stroke="#333" stroke-width="0.9"/>
<path d="M577,370.5 C574,368 578,365 585,365.5 C590,363 600,363 605,365 C612,364 617,364 619,363 C621,359 633,359 636,363 C641,363 646,365 646,368.5 C647,371 644,371.5 640,371 C630,372 620,372.5 610,371.5 C600,372.5 590,373 584,372.5 C580,372.5 577,372 577,370.5 Z" fill="#fff" stroke="#333" stroke-width="0.9"/>
<path d="M726.3,357.4 C728,352 735,349 741,350 C746,346 756,345 763,346.5 C770,345.5 780,345.5 786,347.5 C795,346.5 805,347 809,349 C814,349 818,350 817,352 C822,354 830,358 833,362 C835,365 833,365 830,364.5 Z" fill="#fff" stroke="#333" stroke-width="0.9"/>
<path d="M715.3,364.5 C711,363 712,359 718,358 C721,355 730,354.5 735,356.5 C742,354 752,354 757,355.5 C765,353.5 775,353.5 780,355 C788,354 797,354.5 802,356 C810,355 820,356 824,359 C826,361 826,363 825,364 C795,365.5 745,365.5 715.3,364.5 Z" fill="#fff" stroke="#333" stroke-width="0.9"/>
<path d="M575.3,374 L616.3,374 L599,403.2 L559.5,403.2 Z" fill="url(#rain)" opacity="0.75"/>
<path d="M715.3,366 L769,366 L751.6,392 L690,392 Z" fill="url(#rain)" opacity="0.75"/>
<line x1="662" y1="361.3" x2="700" y2="361.3" stroke="#222" stroke-width="0.9"/>
<path d="M703,361.3 L698,359.3 L698,363.3 Z" fill="#222"/>
<line x1="621" y1="390.5" x2="621" y2="398.4" stroke="#222" stroke-width="1.1"/><path d="M621,388.5 L619.4,391.7 L622.6,391.7 Z" fill="#222"/>
<line x1="629.7" y1="390.5" x2="629.7" y2="398.4" stroke="#222" stroke-width="1.1"/><path d="M629.7,388.5 L628.1,391.7 L631.3000000000001,391.7 Z" fill="#222"/>
<line x1="638.4" y1="390.5" x2="638.4" y2="398.4" stroke="#222" stroke-width="1.1"/><path d="M638.4,388.5 L636.8,391.7 L640.0,391.7 Z" fill="#222"/>
<line x1="769" y1="384.3" x2="769" y2="392" stroke="#222" stroke-width="1.1"/><path d="M769,382.3 L767.4,385.5 L770.6,385.5 Z" fill="#222"/>
<line x1="776" y1="384.3" x2="776" y2="392" stroke="#222" stroke-width="1.1"/><path d="M776,382.3 L774.4,385.5 L777.6,385.5 Z" fill="#222"/>
<line x1="803.7" y1="370.8" x2="803.7" y2="377.9" stroke="#222" stroke-width="1.1"/><path d="M803.7,368.8 L802.1,372.0 L805.3000000000001,372.0 Z" fill="#222"/>
<line x1="810.3" y1="370.8" x2="810.3" y2="377.9" stroke="#222" stroke-width="1.1"/><path d="M810.3,368.8 L808.6999999999999,372.0 L811.9,372.0 Z" fill="#222"/>
<line x1="816.6" y1="370.8" x2="816.6" y2="377.9" stroke="#222" stroke-width="1.1"/><path d="M816.6,368.8 L815.0,372.0 L818.2,372.0 Z" fill="#222"/>
<path d="M560.3,408.7 L652.6,408.7 L600.5,441 L560.3,441 Z" fill="url(#sea)"/>
<line x1="560.3" y1="408.7" x2="652.6" y2="408.7" stroke="#888" stroke-width="1"/>
<path d="M600.5,440 Q628,424 655,407.5 C665,402 672,400 678,399 C686,395 692,392 697,391.4 C701,389 704,388 707,388.2 C712,388 715,390 718.3,390.7 C726,391 732,392 736,393.9 C738,395 740,396 741,396.4 C745,395 749,395 751.2,396.4 C755,398 757,400 758.7,402" fill="none" stroke="#222" stroke-width="0.9"/>
<path d="M655,408.4 C665,407 672,406 678,406 L720.8,403.4 L756.3,403.8 Q762,408 769,411.8 Q777,405 784.7,403.2 L827.4,403.2" fill="none" stroke="#222" stroke-width="0.9"/>
<path d="M613,441.5 Q640,428 665,420.4 L688,418 L830.5,417.4" fill="none" stroke="#222" stroke-width="0.9"/>
<path d="M602,442 Q630,426 657,409.5 C667,404 674,402 680,401 C688,397 694,394 699,393.4 C703,391 706,390 709,390.2 C714,390 717,392 720,392.7 C728,393 734,394 738,396 C742,398 748,397.5 752,398.5" fill="none" stroke="#444" stroke-width="2.4" stroke-dasharray="0.7 1.5"/>
<path d="M657,410.5 C667,409 674,408 680,408 L720.8,405.6 L756,406 Q762,410 769,414 Q777,407 785,405.5 L827,405.5" fill="none" stroke="#444" stroke-width="2.4" stroke-dasharray="0.7 1.5"/>
<path d="M615,443.6 Q642,430 666,422.6 L688,420.2 L830.5,419.6" fill="none" stroke="#444" stroke-width="2.4" stroke-dasharray="0.7 1.5"/>
<line x1="684" y1="413" x2="690" y2="413" stroke="#444" stroke-width="0.8"/>
<line x1="700" y1="413.5" x2="706" y2="413.5" stroke="#444" stroke-width="0.8"/>
<line x1="760" y1="413.4" x2="766" y2="413.4" stroke="#444" stroke-width="0.8"/>
<line x1="782" y1="413" x2="788" y2="413" stroke="#444" stroke-width="0.8"/>
<line x1="800" y1="413" x2="806" y2="413" stroke="#444" stroke-width="0.8"/>
<line x1="814" y1="412.8" x2="820" y2="412.8" stroke="#444" stroke-width="0.8"/>
<line x1="690" y1="417" x2="696" y2="417" stroke="#444" stroke-width="0.8"/>
<line x1="712" y1="416.5" x2="718" y2="416.5" stroke="#444" stroke-width="0.8"/>
<line x1="735" y1="416" x2="741" y2="416" stroke="#444" stroke-width="0.8"/>
<line x1="770" y1="416" x2="776" y2="416" stroke="#444" stroke-width="0.8"/>
<line x1="795" y1="416.5" x2="801" y2="416.5" stroke="#444" stroke-width="0.8"/>
<path d="M757,404.5 L784,404.5 L769,411 Z" fill="#bbb"/>
<ellipse cx="721.5" cy="399.5" rx="2.25" ry="3.0" fill="#fff" stroke="#222" stroke-width="0.8"/><line x1="721.5" y1="401.5" x2="721.5" y2="404.0" stroke="#222" stroke-width="0.8"/>
<ellipse cx="726.5" cy="399.25" rx="2.25" ry="3.25" fill="#fff" stroke="#222" stroke-width="0.8"/><line x1="726.5" y1="401.5" x2="726.5" y2="404.0" stroke="#222" stroke-width="0.8"/>
<ellipse cx="731.5" cy="399.25" rx="2.25" ry="3.25" fill="#fff" stroke="#222" stroke-width="0.8"/><line x1="731.5" y1="401.5" x2="731.5" y2="404.0" stroke="#222" stroke-width="0.8"/>
<ellipse cx="741" cy="400.75" rx="1.6" ry="1.75" fill="#fff" stroke="#222" stroke-width="0.8"/><line x1="741" y1="401.5" x2="741" y2="404.0" stroke="#222" stroke-width="0.8"/>
<ellipse cx="749" cy="400.75" rx="1.6" ry="1.75" fill="#fff" stroke="#222" stroke-width="0.8"/><line x1="749" y1="401.5" x2="749" y2="404.0" stroke="#222" stroke-width="0.8"/>
<ellipse cx="754" cy="400.75" rx="1.6" ry="1.75" fill="#fff" stroke="#222" stroke-width="0.8"/><line x1="754" y1="401.5" x2="754" y2="404.0" stroke="#222" stroke-width="0.8"/>
<ellipse cx="785.5" cy="399.25" rx="2.25" ry="3.25" fill="#fff" stroke="#222" stroke-width="0.8"/><line x1="785.5" y1="401.5" x2="785.5" y2="404.0" stroke="#222" stroke-width="0.8"/>
<ellipse cx="790.5" cy="399.25" rx="2.25" ry="3.25" fill="#fff" stroke="#222" stroke-width="0.8"/><line x1="790.5" y1="401.5" x2="790.5" y2="404.0" stroke="#222" stroke-width="0.8"/>
<ellipse cx="803.5" cy="399.25" rx="2.25" ry="3.25" fill="#fff" stroke="#222" stroke-width="0.8"/><line x1="803.5" y1="401.5" x2="803.5" y2="404.0" stroke="#222" stroke-width="0.8"/>
<ellipse cx="810" cy="398.75" rx="2.25" ry="3.75" fill="#fff" stroke="#222" stroke-width="0.8"/><line x1="810" y1="401.5" x2="810" y2="404.0" stroke="#222" stroke-width="0.8"/>
<ellipse cx="816.5" cy="398.75" rx="2.25" ry="3.75" fill="#fff" stroke="#222" stroke-width="0.8"/><line x1="816.5" y1="401.5" x2="816.5" y2="404.0" stroke="#222" stroke-width="0.8"/>
<path d="M708.5,397.8 Q702,398 695,399.8" fill="none" stroke="#222" stroke-width="0.8"/><path d="M694,400 L697.5,397.6 L697.8,400.6 Z" fill="#222"/>
<path d="M654,413 L650,417.5" stroke="#222" stroke-width="0.8"/><path d="M649.5,418.5 L650,415 L652.3,416.6 Z" fill="#222"/>
<text x="558.8" y="380.2" font-family="Liberation Serif" font-size="7.2" fill="#111">阝水</text>
<text x="684.5" y="371.5" font-family="Liberation Serif" font-size="7.5" fill="#111">降水</text>
<rect x="576.7" y="416.9" width="17.6" height="9.2" fill="#fff"/><text x="577.5" y="424.5" font-family="Liberation Serif" font-size="8" fill="#111">海洋</text>
<rect x="664.7" y="410.71" width="18.0" height="9.429999999999998" fill="#fff"/><text x="665.5" y="418.5" font-family="Liberation Serif" font-size="8.2" fill="#111">下渗</text>
<rect x="718.2" y="406.03" width="27.4" height="9.889999999999999" fill="#fff"/><text x="719" y="414.2" font-family="Liberation Serif" font-size="8.6" fill="#111">地下河</text>
<text x="763.8" y="403.8" font-family="Liberation Serif" font-size="7.6" fill="#111">湖</text>
<circle cx="89.2" cy="430" r="3.9" fill="none" stroke="#222" stroke-width="0.9"/>
<text x="89.2" y="432.4" text-anchor="middle" font-family="Liberation Serif" font-size="6.8" fill="#111">1</text>
<circle cx="89.2" cy="443.9" r="3.9" fill="none" stroke="#222" stroke-width="0.9"/>
<text x="89.2" y="446.29999999999995" text-anchor="middle" font-family="Liberation Serif" font-size="6.8" fill="#111">2</text>
<circle cx="508.6" cy="545.3" r="3.9" fill="none" stroke="#222" stroke-width="0.9"/>
<text x="508.6" y="547.6999999999999" text-anchor="middle" font-family="Liberation Serif" font-size="6.8" fill="#111">1</text>
<circle cx="633.2" cy="545.3" r="3.9" fill="none" stroke="#222" stroke-width="0.9"/>
<text x="633.2" y="547.6999999999999" text-anchor="middle" font-family="Liberation Serif" font-size="6.8" fill="#111">2</text>
</svg>
</body></html>
